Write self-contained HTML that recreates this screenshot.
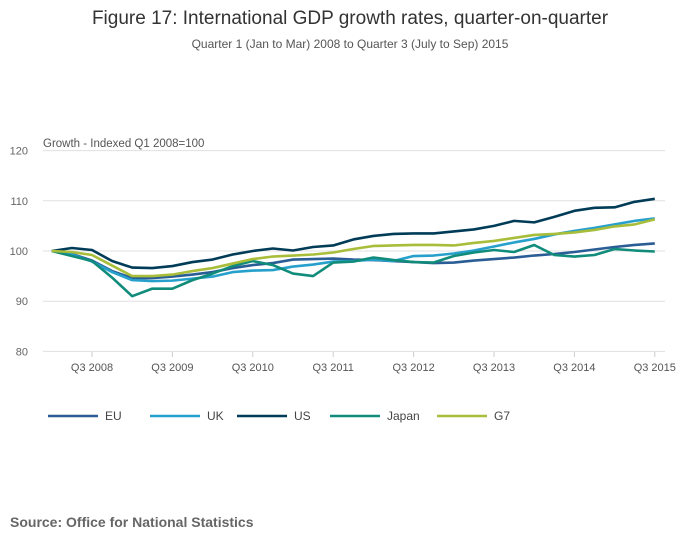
<!DOCTYPE html>
<html><head><meta charset="utf-8"><style>
body{margin:0;background:#fff;width:700px;height:549px;overflow:hidden;font-family:"Liberation Sans",sans-serif}
</style></head><body>
<svg width="700" height="549" id="c" style="font-family:'Liberation Sans',sans-serif">
<text x="350" y="24" text-anchor="middle" font-size="19" fill="#333">Figure 17: International GDP growth rates, quarter-on-quarter</text>
<text x="350" y="48" text-anchor="middle" font-size="12" fill="#555">Quarter 1 (Jan to Mar) 2008 to Quarter 3 (July to Sep) 2015</text>
<text x="43" y="147" font-size="11.5" fill="#555">Growth - Indexed Q1 2008=100</text>
<text x="10" y="527" font-size="14" font-weight="bold" fill="#666">Source: Office for National Statistics</text>
<g id="grid"></g><g id="lines"></g><g id="legend"></g>
</svg>
<script>
const yTicks=[80,90,100,110,120];
const xLabels=["Q3 2008","Q3 2009","Q3 2010","Q3 2011","Q3 2012","Q3 2013","Q3 2014","Q3 2015"];
const xLabelIdx=[2,6,10,14,18,22,26,30];
const seriesNames=["EU","UK","US","Japan","G7"];
const eu=[100,99.4,98.1,96.0,94.6,94.6,94.9,95.3,95.8,96.6,97.2,97.6,98.3,98.4,98.5,98.3,98.2,98.0,97.8,97.6,97.7,98.1,98.4,98.7,99.1,99.4,99.8,100.3,100.8,101.2,101.5];
const uk=[100,99.3,97.9,95.8,94.2,94.0,94.1,94.5,94.9,95.8,96.1,96.2,96.9,97.3,97.9,98.0,98.3,98.0,99.0,99.1,99.5,100.1,100.9,101.7,102.4,103.3,104.0,104.6,105.3,106.0,106.5];
const us=[100,100.6,100.2,98.0,96.7,96.6,97.0,97.8,98.3,99.3,100.0,100.5,100.1,100.8,101.1,102.3,103.0,103.4,103.5,103.5,103.9,104.3,105.0,106.0,105.7,106.8,108.0,108.6,108.7,109.8,110.4];
const japan=[100,99.0,98.0,94.7,91.0,92.5,92.5,94.2,95.5,97.0,98.0,97.2,95.5,95.0,97.7,97.9,98.7,98.2,97.8,97.7,99.0,99.7,100.2,99.8,101.2,99.2,98.9,99.2,100.4,100.1,99.9];
const g7=[100,99.8,99.2,97.1,95.0,95.0,95.3,96.0,96.6,97.5,98.4,98.9,99.1,99.3,99.7,100.4,101.0,101.1,101.2,101.2,101.1,101.6,102.0,102.6,103.2,103.4,103.7,104.2,104.9,105.3,106.3];
const colors=["#2a5d95","#27a0cc","#003c57","#118c7b","#a8bd3a"];
const data=[eu,uk,us,japan,g7];
const NS="http://www.w3.org/2000/svg";
const x=i=>51.8+i*20.1;
const y=v=>251-(v-100)*5.02;
function mk(t,a,p){const e=document.createElementNS(NS,t);for(const k in a)e.setAttribute(k,a[k]);p.appendChild(e);return e;}
const grid=document.getElementById('grid');
yTicks.forEach(v=>{
 const l=mk('line',{x1:43,x2:665,y1:y(v),y2:y(v),stroke:'#e0e0e0','stroke-width':1},grid);
 
 
 const t=mk('text',{x:28,y:y(v)+4,'font-size':11,fill:'#666','text-anchor':'end'},grid);t.textContent=v;
 
 
});
xLabels.forEach((s,k)=>{
 const xi=x(xLabelIdx[k]);
 const tk=mk('line',{x1:xi,x2:xi,y1:352,y2:357,stroke:'#ccc'},grid);
 
 
 const t=mk('text',{x:xi,y:371,'font-size':11,fill:'#555','text-anchor':'middle'},grid);t.textContent=s;
 
 
});
const lines=document.getElementById('lines');
data.forEach((d,s)=>{
 const p=mk('polyline',{points:d.map((v,i)=>x(i)+','+y(v)).join(' '),fill:'none',stroke:colors[s],'stroke-width':2.6,'stroke-linejoin':'round'},lines);
 
 
});
const lg=document.getElementById('legend');
const lx=[48,150,237,330,437];
seriesNames.forEach((n,s)=>{
 const g=mk('g',{},lg);
 
 
 mk('line',{x1:lx[s],x2:lx[s]+50,y1:416,y2:416,stroke:colors[s],'stroke-width':2.6},g);
 const t=mk('text',{x:lx[s]+57,y:420,'font-size':12,fill:'#444'},g);t.textContent=n;
});
</script>
</body></html>
